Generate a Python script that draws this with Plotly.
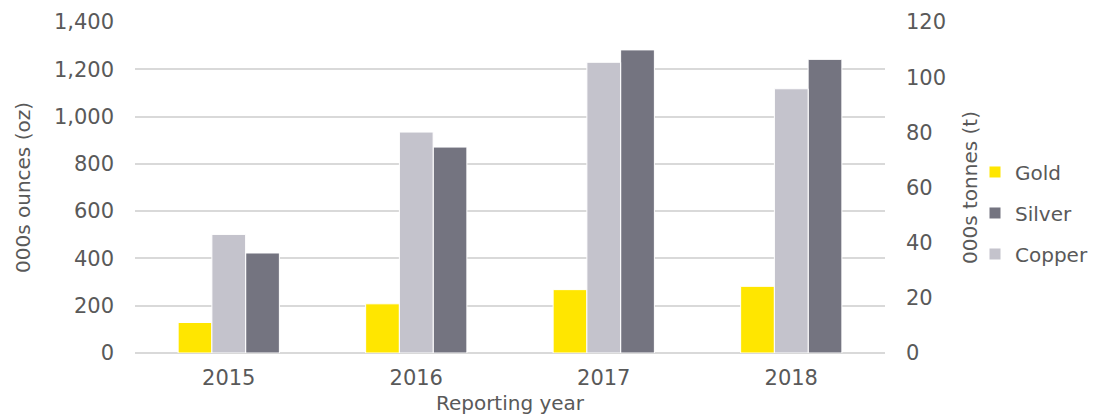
import plotly.graph_objects as go

years = ["2015", "2016", "2017", "2018"]
gold_koz = [129, 208, 268, 282]
silver_koz = [423, 871, 1282, 1242]
copper_kt = [43.0, 80.1, 105.4, 95.8]

left_ticks = [0, 200, 400, 600, 800, 1000, 1200, 1400]
right_ticks = [0, 20, 40, 60, 80, 100, 120]

text_color = "#595959"
grid_color = "#d9d9d9"
font_family = "DejaVu Sans"

fig = go.Figure()
fig.add_trace(go.Bar(
    x=years, y=gold_koz, name="Gold", marker_color="#FFE600",
    marker_line=dict(color="white", width=1), offsetgroup="1",
    legendrank=1, legendgroup="g1", yaxis="y",
))
fig.add_trace(go.Bar(
    x=years, y=copper_kt, name="Copper", marker_color="#C4C3CC",
    marker_line=dict(color="white", width=1), offsetgroup="2",
    legendrank=3, legendgroup="g3", yaxis="y2",
))
fig.add_trace(go.Bar(
    x=years, y=silver_koz, name="Silver", marker_color="#747480",
    marker_line=dict(color="white", width=1), offsetgroup="3",
    legendrank=2, legendgroup="g2", yaxis="y",
))

fig.update_layout(
    width=1093, height=418,
    margin=dict(l=135, r=208, t=22, b=65, autoexpand=False),
    paper_bgcolor="white", plot_bgcolor="white",
    font=dict(family=font_family, size=21, color=text_color),
    barmode="group", bargap=0.46, bargroupgap=0,
    showlegend=True,
    legend=dict(
        x=1.12, y=0.423, xanchor="left", yanchor="middle",
        font=dict(size=20, color=text_color),
        traceorder="grouped", tracegroupgap=12,
        itemwidth=30,
    ),
    xaxis=dict(
        showgrid=False, showline=False, zeroline=False,
        ticks="", ticklabelstandoff=10,
        title=dict(text="Reporting year", standoff=6,
                   font=dict(size=20, color=text_color)),
    ),
    yaxis=dict(
        range=[0, 1400], tickvals=left_ticks, tickformat=",",
        showgrid=True, gridcolor=grid_color, gridwidth=1.5,
        zeroline=True, zerolinecolor=grid_color, zerolinewidth=1.5,
        showline=False, ticks="", ticklabelstandoff=20,
        title=dict(text="000s ounces (oz)", standoff=17,
                   font=dict(size=20, color=text_color)),
    ),
    yaxis2=dict(
        range=[0, 120], tickvals=right_ticks, overlaying="y", side="right",
        showgrid=False, zeroline=False, showline=False,
        ticks="", ticklabelstandoff=20,
        title=dict(text="000s tonnes (t)", standoff=17,
                   font=dict(size=20, color=text_color)),
    ),
)

fig.write_html("out.html")
